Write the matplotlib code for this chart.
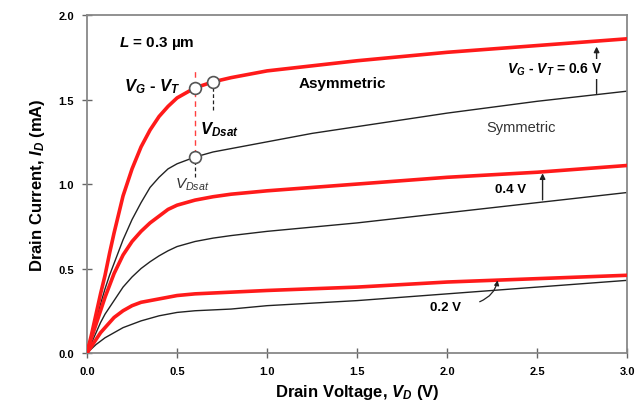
import numpy as np
import matplotlib.pyplot as plt

plt.rcParams['font.family'] = 'Liberation Sans'
plt.rcParams['mathtext.fontset'] = 'custom'
plt.rcParams['mathtext.rm'] = 'Liberation Sans'
plt.rcParams['mathtext.it'] = 'Liberation Sans:italic'
plt.rcParams['mathtext.bf'] = 'Liberation Sans:bold'
plt.rcParams['mathtext.bfit'] = 'Liberation Sans:italic:bold'

# drain voltage grid (V)
vd = [0, 0.025, 0.05, 0.075, 0.1, 0.125, 0.15, 0.2, 0.25, 0.3, 0.35, 0.4, 0.45, 0.5,
      0.6, 0.7, 0.8, 1.0, 1.25, 1.5, 2.0, 2.5, 3.0]
# drain current (mA), asymmetric (red) and symmetric (black)
asym_06 = [0, 0.11, 0.23, 0.35, 0.46, 0.59, 0.71, 0.93, 1.09, 1.22, 1.32, 1.40, 1.46, 1.51,
           1.57, 1.605, 1.63, 1.67, 1.70, 1.73, 1.78, 1.82, 1.86]
sym_06 = [0, 0.10, 0.19, 0.29, 0.38, 0.46, 0.53, 0.67, 0.79, 0.89, 0.98, 1.04, 1.09, 1.12,
          1.16, 1.19, 1.21, 1.25, 1.30, 1.34, 1.42, 1.49, 1.55]
asym_04 = [0, 0.09, 0.17, 0.25, 0.33, 0.40, 0.47, 0.58, 0.66, 0.72, 0.77, 0.81, 0.85, 0.875,
           0.905, 0.925, 0.94, 0.96, 0.98, 1.00, 1.04, 1.07, 1.11]
sym_04 = [0, 0.06, 0.12, 0.18, 0.23, 0.27, 0.31, 0.39, 0.45, 0.50, 0.54, 0.575, 0.605, 0.63,
          0.66, 0.68, 0.695, 0.72, 0.745, 0.77, 0.83, 0.89, 0.95]
asym_02 = [0, 0.04, 0.08, 0.12, 0.15, 0.18, 0.21, 0.25, 0.28, 0.30, 0.31, 0.32, 0.33, 0.34,
           0.35, 0.355, 0.36, 0.37, 0.38, 0.39, 0.42, 0.44, 0.46]
sym_02 = [0, 0.025, 0.05, 0.07, 0.09, 0.105, 0.12, 0.15, 0.17, 0.19, 0.205, 0.22, 0.23, 0.24,
          0.25, 0.255, 0.26, 0.28, 0.295, 0.31, 0.35, 0.39, 0.43]

# V_Dsat points
sat_v = [0.6, 0.7, 0.6]
sat_i = [1.57, 1.605, 1.16]

xticks = [0.0, 0.5, 1.0, 1.5, 2.0, 2.5, 3.0]
yticks = [0.0, 0.5, 1.0, 1.5, 2.0]

fig = plt.figure(figsize=(6.4, 4.14), dpi=100)
ax = fig.add_axes([0.136, 0.145, 0.844, 0.816])

for s in [sym_06, sym_04, sym_02]:
    ax.plot(vd, s, color='#222222', lw=1.0, zorder=2, solid_joinstyle='round')
for s in [asym_06, asym_04, asym_02]:
    ax.plot(vd, s, color='#ff1a1a', lw=2.6, zorder=3, solid_joinstyle='round')

# dashed guides
ax.plot([0.6, 0.6], [1.17, 1.68], color='#ff4040', lw=1.0, ls=(0, (4, 3)), zorder=1)
ax.plot([0.7, 0.7], [1.44, 1.59], color='#222222', lw=0.9, ls=(0, (3, 2)), zorder=1)
ax.plot([0.6, 0.6], [1.04, 1.15], color='#222222', lw=0.9, ls=(0, (3, 2)), zorder=1)
ax.plot(sat_v, sat_i, 'o', ms=8.5, mfc='white', mec='#555555', mew=1.2, ls='none', zorder=5)

ax.text(0.18, 1.84, r'$\mathbfit{L}$ = 0.3 µm', fontsize=11, fontweight='bold', va='center')
ax.text(0.52, 1.585, r'$\mathbfit{V}_\mathbfit{G}$ - $\mathbfit{V}_\mathbfit{T}$', fontsize=12,
        fontweight='bold', ha='right', va='center')
ax.text(0.63, 1.33, r'$\mathbfit{V}_\mathbfit{Dsat}$', fontsize=12, va='center')
ax.text(0.49, 1.0, r'$\mathit{V}_\mathit{Dsat}$', fontsize=11, va='center', color='#333333')
ax.text(1.42, 1.60, 'Asymmetric', fontsize=11, fontweight='bold', ha='center', va='center')
ax.text(2.41, 1.34, 'Symmetric', fontsize=10.5, ha='center', va='center', color='#333333')

ax.annotate('', xy=(2.83, 1.83), xytext=(2.83, 1.52),
            arrowprops=dict(arrowstyle='-|>', color='#222222', lw=1.0, mutation_scale=8), zorder=4)
ax.text(2.6, 1.68, r'$\mathbfit{V}_\mathbfit{G}$ - $\mathbfit{V}_\mathbfit{T}$ = 0.6 V', fontsize=10,
        fontweight='bold', ha='center', va='center', zorder=6,
        bbox=dict(facecolor='white', edgecolor='none', pad=1.5))

ax.annotate('', xy=(2.53, 1.08), xytext=(2.53, 0.89),
            arrowprops=dict(arrowstyle='-|>', color='#222222', lw=1.0, mutation_scale=8), zorder=4)
ax.text(2.35, 0.97, '0.4 V', fontsize=9.5, fontweight='bold', ha='center', va='center')

ax.annotate('0.2 V', xy=(2.28, 0.43), xytext=(1.99, 0.27),
            fontsize=9.5, fontweight='bold', ha='center', va='center',
            arrowprops=dict(arrowstyle='-|>', color='#222222', lw=0.9, mutation_scale=7,
                            connectionstyle='angle3,angleA=0,angleB=80', shrinkA=12, shrinkB=0))

ax.set_xlim(0, 3.0)
ax.set_ylim(0, 2.0)
ax.set_xticks(xticks)
ax.set_yticks(yticks)
ax.set_xticklabels([f'{t:.1f}' for t in xticks], fontweight='bold', fontsize=8)
ax.set_yticklabels([f'{t:.1f}' for t in yticks], fontweight='bold', fontsize=8)
ax.tick_params(direction='inout', length=7, width=1.0, color='#666666', pad=6)
for sp in ax.spines.values():
    sp.set_color('#888888')
    sp.set_linewidth(1.3)

ax.set_xlabel(r'Drain Voltage, $\mathbfit{V}_\mathbfit{D}$ (V)', fontsize=12, fontweight='bold', labelpad=4)
ax.set_ylabel(r'Drain Current, $\mathbfit{I}_\mathbfit{D}$ (mA)', fontsize=12, fontweight='bold', labelpad=8)

fig.savefig('out.png', dpi=100)
